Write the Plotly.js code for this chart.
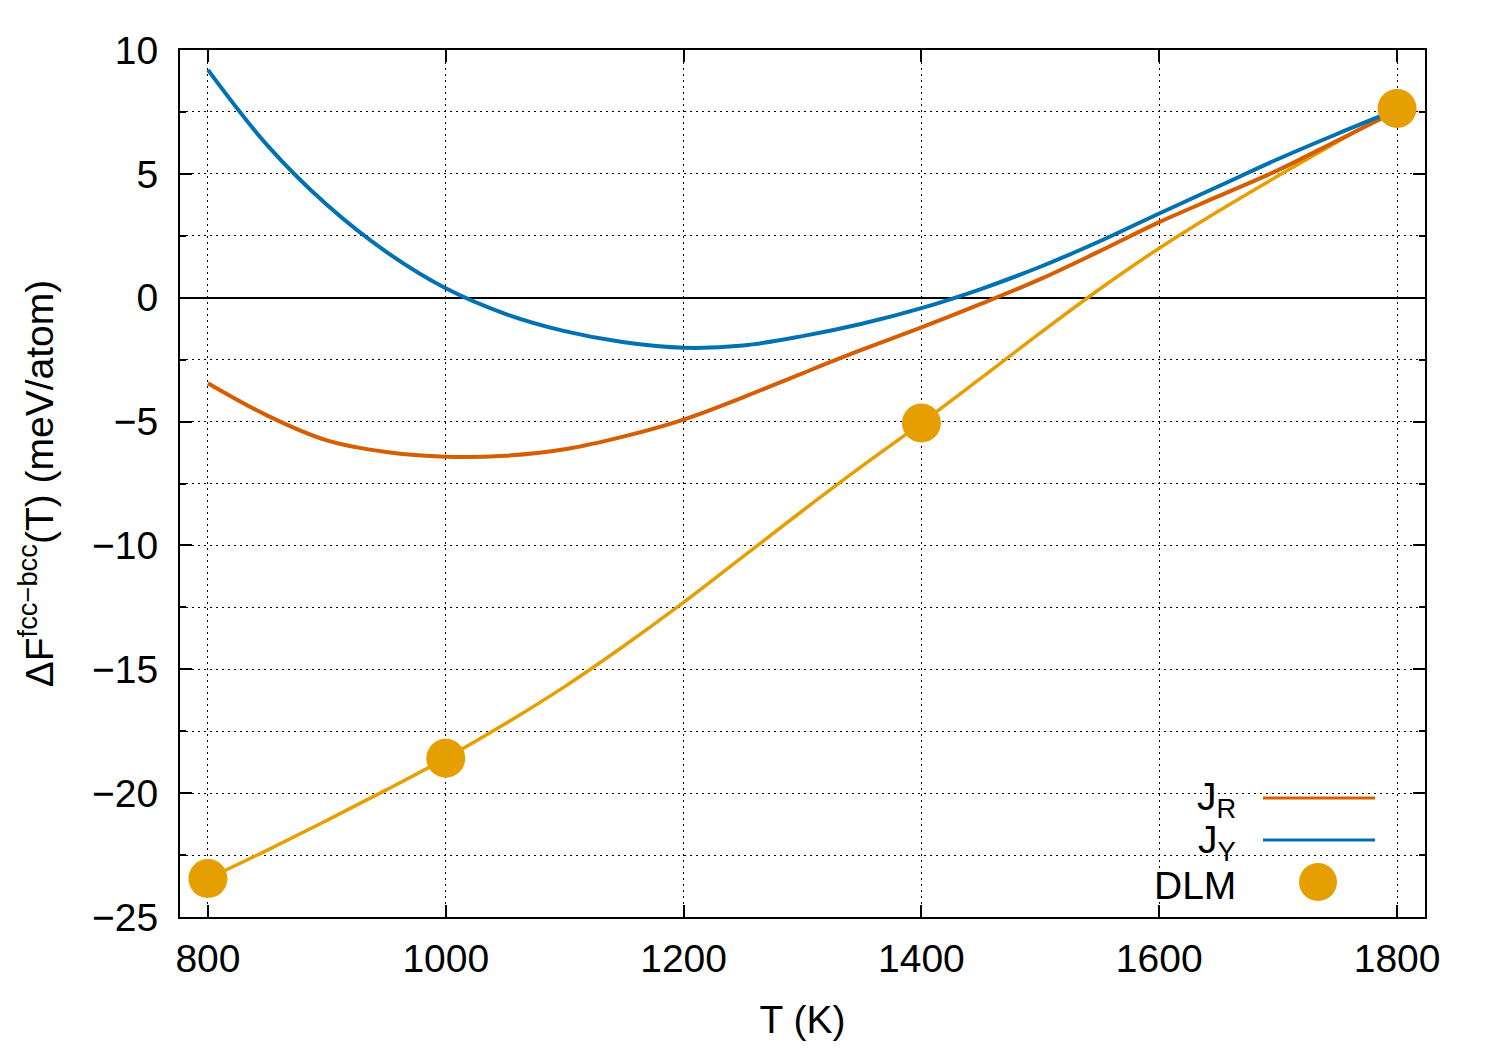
<!DOCTYPE html>
<html>
<head>
<meta charset="utf-8">
<script src="https://cdn.plot.ly/plotly-3.0.1.min.js"></script>
<style>
  html, body { margin: 0; padding: 0; background: #ffffff; }
  #chart { width: 1500px; height: 1050px; }
</style>
</head>
<body>
<div id="chart"></div>
<script>
// Temperature grid (K)
const T = [800, 850, 900, 950, 1000, 1050, 1100, 1150, 1200, 1250, 1300,
           1350, 1400, 1450, 1500, 1550, 1600, 1650, 1700, 1750, 1800];
// J_R series (meV/atom)
const jR = [-3.45, -4.76, -5.76, -6.23, -6.42, -6.38, -6.12, -5.6, -4.92, -4.02, -3.05,
            -2.1, -1.2, -0.25, 0.75, 1.88, 3.05, 4.1, 5.15, 6.35, 7.55];
// J_Y series (meV/atom)
const jY = [9.2, 6.15, 3.75, 1.85, 0.38, -0.65, -1.35, -1.8, -2.02, -1.93, -1.55,
            -1.05, -0.42, 0.35, 1.25, 2.28, 3.4, 4.5, 5.6, 6.62, 7.6];
// DLM smooth curve (meV/atom)
const dlmCurve = [-23.45, -22.3, -21.1, -19.87, -18.59, -17.2, -15.7, -14.05, -12.3, -10.45, -8.6,
                  -6.8, -5.06, -3.25, -1.42, 0.35, 2.0, 3.5, 4.92, 6.3, 7.64];
// DLM calculated points
const dlmT = [800, 1000, 1400, 1800];
const dlmV = [-23.45, -18.59, -5.06, 7.64];
// Tick values
const xTicks = [800, 1000, 1200, 1400, 1600, 1800];
const yTicks = [-25, -20, -15, -10, -5, 0, 5, 10];

const cOrange = '#D55E00';
const cBlue = '#0072B2';
const cYellow = '#E69F00';
const FONT = 'Liberation Sans, Arial, Helvetica, sans-serif';
const FS = 39;

const traces = [
  { x: T, y: dlmCurve, type: 'scatter', mode: 'lines', name: 'DLM fit',
    line: { color: cYellow, width: 3.5, shape: 'spline', smoothing: 1 }, showlegend: false, hoverinfo: 'skip' },
  { x: T, y: jR, type: 'scatter', mode: 'lines', name: 'J_R',
    line: { color: cOrange, width: 4, shape: 'spline', smoothing: 1 }, showlegend: false },
  { x: T, y: jY, type: 'scatter', mode: 'lines', name: 'J_Y',
    line: { color: cBlue, width: 4, shape: 'spline', smoothing: 1 }, showlegend: false },
  { x: dlmT, y: dlmV, type: 'scatter', mode: 'markers', name: 'DLM',
    marker: { color: cYellow, size: 39, line: { width: 0 } }, showlegend: false, cliponaxis: false }
];

// custom gnuplot-style legend (text left, sample right), in paper coordinates
const px = v => (v - 180) / 1245;
const py = v => (917 - v) / 867;

const shapes = [
  { type: 'rect', xref: 'paper', yref: 'paper', x0: px(1161), x1: px(1401), y0: py(915), y1: py(776),
    fillcolor: '#ffffff', line: { width: 0 }, layer: 'between' },
  { type: 'line', xref: 'paper', yref: 'paper', x0: px(1263), x1: px(1375), y0: py(798), y1: py(798),
    line: { color: cOrange, width: 3 } },
  { type: 'line', xref: 'paper', yref: 'paper', x0: px(1263), x1: px(1375), y0: py(840), y1: py(840),
    line: { color: cBlue, width: 3 } },
  { type: 'circle', xref: 'paper', yref: 'paper', x0: px(1299), x1: px(1337), y0: py(901), y1: py(863),
    fillcolor: cYellow, line: { width: 0 } }
];

const annotations = [
  { xref: 'paper', yref: 'paper', x: px(1238), y: py(800), xanchor: 'right', yanchor: 'middle',
    text: 'J<sub>R</sub>', showarrow: false, font: { family: FONT, size: FS, color: '#000' } },
  { xref: 'paper', yref: 'paper', x: px(1238), y: py(842), xanchor: 'right', yanchor: 'middle',
    text: 'J<sub>Y</sub>', showarrow: false, font: { family: FONT, size: FS, color: '#000' } },
  { xref: 'paper', yref: 'paper', x: px(1238), y: py(885), xanchor: 'right', yanchor: 'middle',
    text: 'DLM', showarrow: false, font: { family: FONT, size: FS, color: '#000' } }
];

const axisCommon = {
  showline: true, linecolor: '#000', linewidth: 2, mirror: 'ticks',
  ticks: 'inside', ticklen: 12, tickwidth: 2, tickcolor: '#000',
  showgrid: true, gridcolor: '#000', gridwidth: 1, griddash: '2px,4px',
  tickfont: { family: FONT, size: FS, color: '#000' },
  zeroline: false, automargin: false
};

const layout = {
  width: 1500, height: 1050,
  margin: { l: 180, r: 75, t: 50, b: 133 },
  paper_bgcolor: '#ffffff', plot_bgcolor: '#ffffff',
  showlegend: false,
  font: { family: FONT, size: FS, color: '#000' },
  xaxis: Object.assign({}, axisCommon, {
    range: [776.5, 1823.5], tickvals: xTicks, ticktext: xTicks.map(String),
    ticklabelstandoff: 6,
    title: { text: 'T (K)', font: { family: FONT, size: FS, color: '#000' }, standoff: 27 }
  }),
  yaxis: Object.assign({}, axisCommon, {
    range: [-25, 10], tickvals: yTicks,
    ticklabelstandoff: 12,
    zeroline: true, zerolinecolor: '#000', zerolinewidth: 2,
    minor: { dtick: 2.5, tick0: 0, ticks: 'inside', ticklen: 6, tickwidth: 2, tickcolor: '#000',
             showgrid: true, gridcolor: '#000', gridwidth: 1, griddash: '2px,4px' },
    title: { text: 'ΔF<sup>fcc−bcc</sup>(T) (meV/atom)', font: { family: FONT, size: FS, color: '#000' }, standoff: 26 }
  }),
  shapes: shapes,
  annotations: annotations
};

Plotly.newPlot('chart', traces, layout, { displayModeBar: false, staticPlot: true });
</script>
</body>
</html>
